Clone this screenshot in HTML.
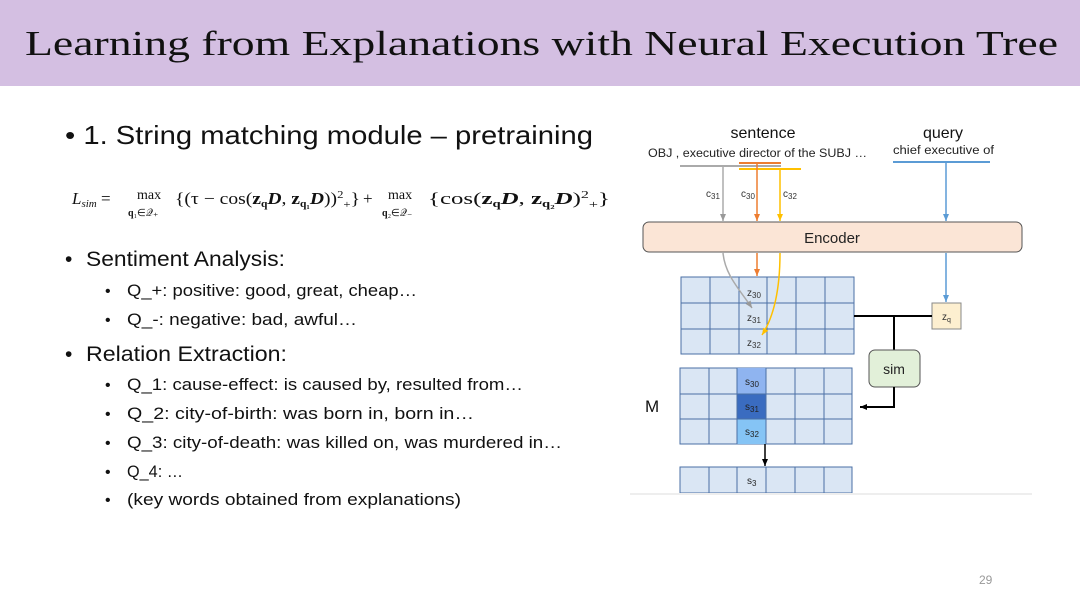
<!DOCTYPE html>
<html><head><meta charset="utf-8"><style>
html,body{margin:0;padding:0;background:#fff;}
svg{display:block;}
</style></head><body>
<svg width="1080" height="607" viewBox="0 0 1080 607" xmlns="http://www.w3.org/2000/svg">
<defs>
<marker id="ag" markerWidth="8" markerHeight="8" refX="7" refY="4" orient="auto" markerUnits="userSpaceOnUse"><path d="M0,1 L7,4 L0,7 z" fill="#999"/></marker>
<marker id="ao" markerWidth="8" markerHeight="8" refX="7" refY="4" orient="auto" markerUnits="userSpaceOnUse"><path d="M0,1 L7,4 L0,7 z" fill="#ed7d31"/></marker>
<marker id="ay" markerWidth="8" markerHeight="8" refX="7" refY="4" orient="auto" markerUnits="userSpaceOnUse"><path d="M0,1 L7,4 L0,7 z" fill="#ffc000"/></marker>
<marker id="ab" markerWidth="8" markerHeight="8" refX="7" refY="4" orient="auto" markerUnits="userSpaceOnUse"><path d="M0,1 L7,4 L0,7 z" fill="#5b9bd5"/></marker>
<marker id="ak" markerWidth="8" markerHeight="8" refX="7" refY="4" orient="auto" markerUnits="userSpaceOnUse"><path d="M0,1 L7,4 L0,7 z" fill="#000"/></marker>
</defs>
<rect x="0" y="0" width="1080" height="86" fill="#d4bfe2"/>
<text x="25" y="55" font-family="Liberation Serif, serif" font-size="35" fill="#111" textLength="1033" lengthAdjust="spacingAndGlyphs">Learning from Explanations with Neural Execution Tree</text>

<g font-family="Liberation Sans, sans-serif" fill="#111">
<text x="65" y="144" font-size="26" textLength="528" lengthAdjust="spacingAndGlyphs">• 1. String matching module – pretraining</text>
<text x="65" y="266" font-size="21">•</text>
<text x="86" y="266" font-size="21" textLength="199" lengthAdjust="spacingAndGlyphs">Sentiment Analysis:</text>
<text x="105" y="296" font-size="16">•</text><text x="127" y="296" font-size="17" textLength="290" lengthAdjust="spacingAndGlyphs">Q_+: positive: good, great, cheap…</text>
<text x="105" y="325" font-size="16">•</text><text x="127" y="325" font-size="17" textLength="230" lengthAdjust="spacingAndGlyphs">Q_-: negative: bad, awful…</text>
<text x="65" y="361" font-size="21">•</text>
<text x="86" y="361" font-size="21" textLength="201" lengthAdjust="spacingAndGlyphs">Relation Extraction:</text>
<text x="105" y="390" font-size="16">•</text><text x="127" y="390" font-size="17" textLength="396" lengthAdjust="spacingAndGlyphs">Q_1: cause-effect: is caused by, resulted from…</text>
<text x="105" y="419" font-size="16">•</text><text x="127" y="419" font-size="17" textLength="347" lengthAdjust="spacingAndGlyphs">Q_2: city-of-birth: was born in, born in…</text>
<text x="105" y="448" font-size="16">•</text><text x="127" y="448" font-size="17" textLength="435" lengthAdjust="spacingAndGlyphs">Q_3: city-of-death: was killed on, was murdered in…</text>
<text x="105" y="477" font-size="16">•</text><text x="127" y="477" font-size="17" textLength="56" lengthAdjust="spacingAndGlyphs">Q_4: …</text>
<text x="105" y="505" font-size="16">•</text><text x="127" y="505" font-size="17" textLength="334" lengthAdjust="spacingAndGlyphs">(key words obtained from explanations)</text>
<text x="979" y="584" font-size="12" fill="#999">29</text>
</g>

<!-- formula -->
<g font-family="Liberation Serif, serif" fill="#111" font-size="17">
<text x="72" y="204"><tspan font-style="italic">L</tspan><tspan font-size="11" font-style="italic" dy="3">sim</tspan><tspan dy="-3"> = </tspan></text>
<text x="137" y="199" font-size="14">max</text>
<text x="128" y="216" font-size="10" font-weight="bold">q<tspan font-weight="normal">₁∈𝒬₊</tspan></text>
<text x="175" y="204" textLength="185" lengthAdjust="spacingAndGlyphs">{(τ − cos(<tspan font-weight="bold">z</tspan><tspan font-size="10" font-weight="bold" dy="3">q</tspan><tspan dy="-3" font-weight="bold" font-style="italic">D</tspan>, <tspan font-weight="bold">z</tspan><tspan font-size="10" font-weight="bold" dy="3">q₁</tspan><tspan dy="-3" font-weight="bold" font-style="italic">D</tspan>))<tspan font-size="11" dy="-6">2</tspan><tspan font-size="11" dy="10">+</tspan><tspan dy="-4">}</tspan></text>
<text x="363" y="204">+</text>
<text x="388" y="199" font-size="14">max</text>
<text x="382" y="216" font-size="10" font-weight="bold">q<tspan font-weight="normal">₂∈𝒬₋</tspan></text>
<text x="428" y="204" textLength="182" lengthAdjust="spacingAndGlyphs">{cos(<tspan font-weight="bold">z</tspan><tspan font-size="10" font-weight="bold" dy="3">q</tspan><tspan dy="-3" font-weight="bold" font-style="italic">D</tspan>, <tspan font-weight="bold">z</tspan><tspan font-size="10" font-weight="bold" dy="3">q₂</tspan><tspan dy="-3" font-weight="bold" font-style="italic">D</tspan>)<tspan font-size="11" dy="-6">2</tspan><tspan font-size="11" dy="10">+</tspan><tspan dy="-4">}</tspan></text>
</g>

<!-- diagram -->
<g font-family="Liberation Sans, sans-serif">
<text x="763" y="138" font-size="16" text-anchor="middle" fill="#111">sentence</text>
<text x="943" y="138" font-size="16" text-anchor="middle" fill="#111">query</text>
<text x="648" y="157" font-size="11.5" fill="#222" textLength="219" lengthAdjust="spacingAndGlyphs">OBJ , executive director of the SUBJ …</text>
<text x="893" y="154" font-size="11.5" fill="#222" textLength="101" lengthAdjust="spacingAndGlyphs">chief executive of</text>

<line x1="680" y1="166" x2="781" y2="166" stroke="#aaa" stroke-width="2"/>
<line x1="739" y1="163" x2="781" y2="163" stroke="#ed7d31" stroke-width="2"/>
<line x1="739" y1="169" x2="801" y2="169" stroke="#ffc000" stroke-width="2"/>
<line x1="893" y1="162" x2="990" y2="162" stroke="#5b9bd5" stroke-width="2"/>

<line x1="723" y1="166" x2="723" y2="221" stroke="#aaa" stroke-width="1.5" marker-end="url(#ag)"/>
<line x1="757" y1="164" x2="757" y2="221" stroke="#ed7d31" stroke-width="1.5" marker-end="url(#ao)"/>
<line x1="780" y1="170" x2="780" y2="221" stroke="#ffc000" stroke-width="1.5" marker-end="url(#ay)"/>
<line x1="946" y1="163" x2="946" y2="221" stroke="#5b9bd5" stroke-width="1.5" marker-end="url(#ab)"/>

<text x="706" y="197" font-size="10" fill="#333">c<tspan font-size="8" dy="2">31</tspan></text>
<text x="741" y="197" font-size="10" fill="#333">c<tspan font-size="8" dy="2">30</tspan></text>
<text x="783" y="197" font-size="10" fill="#333">c<tspan font-size="8" dy="2">32</tspan></text>

<rect x="643" y="222" width="379" height="30" rx="6" fill="#fbe5d6" stroke="#555" stroke-width="1"/>
<text x="832" y="243" font-size="15" text-anchor="middle" fill="#222">Encoder</text>

<rect x="681" y="277" width="173" height="77" fill="#dae6f4" stroke="#4a6fa5"/>
<g stroke="#4a6fa5" stroke-width="1">
<line x1="710" y1="277" x2="710" y2="354"/><line x1="739" y1="277" x2="739" y2="354"/><line x1="767" y1="277" x2="767" y2="354"/><line x1="796" y1="277" x2="796" y2="354"/><line x1="825" y1="277" x2="825" y2="354"/>
<line x1="681" y1="303" x2="854" y2="303"/><line x1="681" y1="329" x2="854" y2="329"/>
</g>
<g font-size="10" fill="#333">
<text x="747" y="296">z<tspan font-size="8" dy="2">30</tspan></text>
<text x="747" y="321">z<tspan font-size="8" dy="2">31</tspan></text>
<text x="747" y="346">z<tspan font-size="8" dy="2">32</tspan></text>
</g>

<path d="M723,253 C725,275 740,290 752,308" stroke="#aaa" stroke-width="1.5" fill="none" marker-end="url(#ag)"/>
<line x1="757" y1="253" x2="757" y2="276" stroke="#ed7d31" stroke-width="1.5" marker-end="url(#ao)"/>
<path d="M780,253 C780,285 775,315 762,335" stroke="#ffc000" stroke-width="1.5" fill="none" marker-end="url(#ay)"/>
<line x1="946" y1="253" x2="946" y2="302" stroke="#5b9bd5" stroke-width="1.5" marker-end="url(#ab)"/>

<rect x="932" y="303" width="29" height="26" fill="#fdefd0" stroke="#888"/>
<text x="942" y="320" font-size="10" fill="#333">z<tspan font-size="7" dy="2">q</tspan></text>

<line x1="854" y1="316" x2="932" y2="316" stroke="#000" stroke-width="2"/>
<line x1="894" y1="316" x2="894" y2="350" stroke="#000" stroke-width="2"/>
<rect x="869" y="350" width="51" height="37" rx="6" fill="#e2f0d9" stroke="#555"/>
<text x="894" y="374" font-size="14" text-anchor="middle" fill="#222">sim</text>
<polyline points="894,387 894,407 860,407" stroke="#000" stroke-width="2" fill="none" marker-end="url(#ak)"/>

<text x="645" y="412" font-size="17" fill="#111">M</text>
<rect x="680" y="368" width="172" height="76" fill="#dae6f4" stroke="#4a6fa5"/>
<rect x="737" y="368" width="29" height="26" fill="#8fb4f0"/>
<rect x="737" y="394" width="29" height="25" fill="#3a6cc0"/>
<rect x="737" y="419" width="29" height="25" fill="#85c4f5"/>
<g stroke="#4a6fa5" stroke-width="1">
<line x1="709" y1="368" x2="709" y2="444"/><line x1="737" y1="368" x2="737" y2="444"/><line x1="766" y1="368" x2="766" y2="444"/><line x1="795" y1="368" x2="795" y2="444"/><line x1="824" y1="368" x2="824" y2="444"/>
<line x1="680" y1="394" x2="852" y2="394"/><line x1="680" y1="419" x2="852" y2="419"/>
</g>
<g font-size="10" fill="#222">
<text x="745" y="385">s<tspan font-size="8" dy="2">30</tspan></text>
<text x="745" y="410">s<tspan font-size="8" dy="2">31</tspan></text>
<text x="745" y="435">s<tspan font-size="8" dy="2">32</tspan></text>
</g>
<line x1="765" y1="444" x2="765" y2="466" stroke="#000" stroke-width="1.5" marker-end="url(#ak)"/>

<rect x="680" y="467" width="172" height="26" fill="#dae6f4" stroke="#4a6fa5"/>
<g stroke="#4a6fa5" stroke-width="1">
<line x1="709" y1="467" x2="709" y2="493"/><line x1="737" y1="467" x2="737" y2="493"/><line x1="766" y1="467" x2="766" y2="493"/><line x1="795" y1="467" x2="795" y2="493"/><line x1="824" y1="467" x2="824" y2="493"/>
</g>
<text x="747" y="484" font-size="10" fill="#222">s<tspan font-size="8" dy="2">3</tspan></text>
<line x1="630" y1="494" x2="1032" y2="494" stroke="#eee" stroke-width="2"/>
</g>
</svg>
</body></html>
